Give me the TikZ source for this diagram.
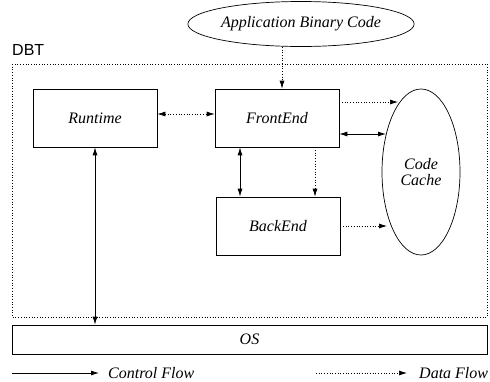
\documentclass[tikz,border=0pt]{standalone}
\usepackage{fontspec}
\setmainfont{Liberation Serif}
\setsansfont{Liberation Sans}
\usetikzlibrary{arrows.meta,shapes.geometric}
\tikzset{
  txt/.style={font=\fontsize{16}{18}\selectfont\itshape},
  blk/.style={draw, line width=0.7pt, minimum width=124pt, minimum height=58pt, inner sep=0pt, txt},
  ctrl/.style={line width=0.8pt, -{Latex[length=8pt,width=5pt]}},
  both/.style={line width=0.8pt, {Latex[length=8pt,width=5pt]}-{Latex[length=8pt,width=5pt]}},
  data/.style={line width=0.7pt, dotted, -{Latex[length=8pt,width=5pt]}},
  databoth/.style={line width=0.7pt, dotted, {Latex[length=8pt,width=5pt]}-{Latex[length=8pt,width=5pt]}},
  lbl/.style={txt, inner sep=0pt, anchor=base west}
}
\begin{document}
\begin{tikzpicture}[x=1pt,y=-1pt]
\useasboundingbox (0,0) rectangle (490,381);
% DBT frame
\draw[dotted, line width=0.7pt] (12,64) rectangle (487,317);
\node[anchor=south west, inner sep=0pt, font=\sffamily\fontsize{16}{18}\selectfont] (dbt) at (12,56) {DBT};
% components
\node[draw, ellipse, line width=0.7pt, minimum width=222pt, minimum height=45pt, inner sep=0pt, txt] (abc) at (301,24) {Application Binary Code};
\node[blk] (rt) at (95,118) {Runtime};
\node[blk] (fe) at (277,118) {FrontEnd};
\node[blk] (be) at (278,226) {BackEnd};
\node[draw, ellipse, line width=0.7pt, minimum width=78pt, minimum height=166pt, inner sep=0pt, align=center, txt] (cc) at (421,172) {Code\\[-2pt]Cache};
\node[draw, line width=0.7pt, minimum width=475pt, minimum height=29pt, inner sep=0pt, txt] (os) at (249.5,339.5) {OS};
% connectors
\coordinate (ccA) at (398,102);
\coordinate (ccB) at (386,134);
\coordinate (ccC) at (387,226);
\draw[data] (abc.south -| 282,0) -- (fe.north -| 282,0);
\draw[databoth] (rt.east |- 0,114) -- (fe.west |- 0,114);
\draw[data] (fe.east |- 0,102) -- (ccA);
\draw[both] (fe.east |- 0,134) -- (ccB);
\draw[both] (fe.south -| 240,0) -- (be.north -| 240,0);
\draw[data] (fe.south -| 315,0) -- (be.north -| 315,0);
\draw[data] (be.east |- 0,226) -- (ccC);
\draw[both] (rt.south -| 95,0) -- (os.north -| 95,0);
% legend
\coordinate (c0) at (12,373);
\coordinate (c1) at (99,373);
\draw[ctrl] (c0) -- (c1);
\node[lbl] (cf) at (108,378) {Control Flow};
\coordinate (d0) at (316,373);
\coordinate (d1) at (407,373);
\draw[data] (d0) -- (d1);
\node[lbl] (df) at (419,378) {Data Flow};
\end{tikzpicture}
\end{document}
